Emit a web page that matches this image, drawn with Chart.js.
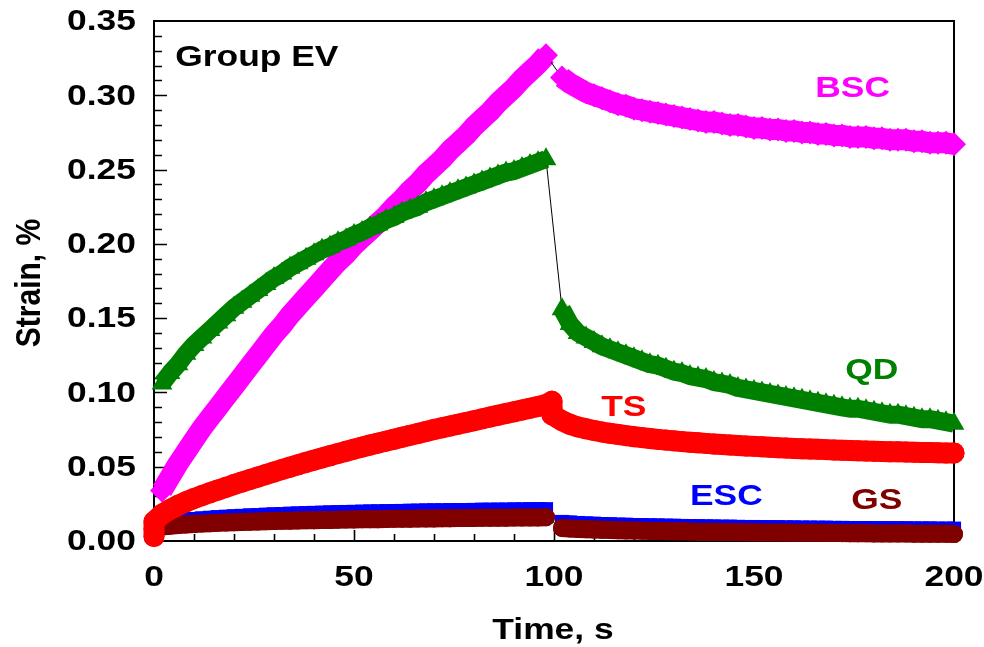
<!DOCTYPE html>
<html>
<head>
<meta charset="utf-8">
<script src="https://cdn.jsdelivr.net/npm/chart.js@4.4.1/dist/chart.umd.min.js"></script>
<style>
  html, body { margin: 0; padding: 0; background: #fff; }
  #wrap { position: relative; width: 984px; height: 647px; }
</style>
</head>
<body>
<div id="wrap"><canvas id="strain-chart"></canvas></div>
<script>
(function () {
  // time stamps (s) for the loading and unloading phases
  var timeLoad = [2, 4, 6, 8, 10, 12, 14, 16, 18, 20, 22, 24, 26, 28, 30, 32, 34, 36, 38, 40,
    42, 44, 46, 48, 50, 52, 54, 56, 58, 60, 62, 64, 66, 68, 70, 72, 74, 76, 78, 80,
    82, 84, 86, 88, 90, 92, 94, 96, 98];
  var timeUnload = [102, 104, 106, 108, 110, 112, 114, 116, 118, 120, 122, 124, 126, 128, 130,
    132, 134, 136, 138, 140, 142, 144, 146, 148, 150, 152, 154, 156, 158, 160, 162, 164, 166,
    168, 170, 172, 174, 176, 178, 180, 182, 184, 186, 188, 190, 192, 194, 196, 198, 200];

  // strain, %
  var bscLoad = [0.034, 0.043, 0.052, 0.060, 0.068, 0.076, 0.083, 0.090, 0.097, 0.104,
    0.111, 0.118, 0.125, 0.132, 0.139, 0.145, 0.152, 0.158, 0.164, 0.170,
    0.176, 0.182, 0.188, 0.193, 0.199, 0.204, 0.209, 0.214, 0.219, 0.225,
    0.230, 0.236, 0.241, 0.247, 0.252, 0.257, 0.263, 0.268, 0.273, 0.279,
    0.284, 0.289, 0.295, 0.300, 0.305, 0.311, 0.316, 0.321, 0.327];
  var bscUnload = [0.312, 0.308, 0.305, 0.302, 0.300, 0.298, 0.296, 0.294, 0.293, 0.291,
    0.290, 0.289, 0.288, 0.287, 0.286, 0.285, 0.284, 0.283, 0.282, 0.282,
    0.281, 0.280, 0.280, 0.279, 0.278, 0.278, 0.277, 0.277, 0.276, 0.276,
    0.275, 0.275, 0.274, 0.274, 0.273, 0.273, 0.272, 0.272, 0.272, 0.271,
    0.271, 0.270, 0.270, 0.270, 0.269, 0.269, 0.268, 0.268, 0.268, 0.267];

  var qdLoad = [0.106, 0.113, 0.119, 0.126, 0.132, 0.137, 0.142, 0.147, 0.152, 0.157,
    0.161, 0.165, 0.169, 0.173, 0.177, 0.180, 0.184, 0.187, 0.190, 0.193,
    0.196, 0.198, 0.201, 0.203, 0.206, 0.208, 0.211, 0.213, 0.216, 0.218,
    0.221, 0.223, 0.225, 0.228, 0.230, 0.232, 0.234, 0.236, 0.238, 0.240,
    0.242, 0.244, 0.246, 0.248, 0.249, 0.251, 0.253, 0.255, 0.257];
  var qdUnload = [0.156, 0.146, 0.140, 0.137, 0.134, 0.131, 0.129, 0.127, 0.125, 0.123,
    0.121, 0.119, 0.118, 0.116, 0.114, 0.113, 0.111, 0.110, 0.109, 0.107,
    0.106, 0.105, 0.103, 0.102, 0.101, 0.100, 0.099, 0.098, 0.097, 0.096,
    0.095, 0.094, 0.093, 0.092, 0.091, 0.090, 0.089, 0.089, 0.088, 0.087,
    0.086, 0.085, 0.085, 0.084, 0.083, 0.082, 0.082, 0.081, 0.080, 0.079];

  var tsOnsetTime = [0, 0, 0];
  var tsOnset = [0.003, 0.008, 0.013];
  var tsLoad = [0.0180, 0.0212, 0.0240, 0.0264, 0.0286, 0.0306, 0.0325, 0.0343, 0.0361, 0.0380,
    0.0397, 0.0414, 0.0431, 0.0448, 0.0465, 0.0481, 0.0497, 0.0513, 0.0529, 0.0544,
    0.0559, 0.0574, 0.0589, 0.0604, 0.0618, 0.0632, 0.0646, 0.0659, 0.0672, 0.0685,
    0.0698, 0.0711, 0.0724, 0.0737, 0.0750, 0.0762, 0.0774, 0.0786, 0.0798, 0.0810,
    0.0822, 0.0834, 0.0846, 0.0858, 0.0870, 0.0882, 0.0894, 0.0906, 0.0918];
  var tsDropTime = [99.5, 99.5, 99.5];
  var tsDrop = [0.094, 0.089, 0.085];
  var tsUnload = [0.0810, 0.0785, 0.0768, 0.0755, 0.0744, 0.0734, 0.0725, 0.0717, 0.0709, 0.0702,
    0.0696, 0.0690, 0.0684, 0.0679, 0.0674, 0.0669, 0.0665, 0.0661, 0.0657, 0.0653,
    0.0649, 0.0646, 0.0643, 0.0640, 0.0637, 0.0634, 0.0631, 0.0628, 0.0626, 0.0623,
    0.0621, 0.0619, 0.0617, 0.0615, 0.0613, 0.0611, 0.0609, 0.0607, 0.0606, 0.0604,
    0.0603, 0.0601, 0.0600, 0.0599, 0.0597, 0.0596, 0.0595, 0.0594, 0.0593, 0.0592];

  var escLoad = [0.0125, 0.0132, 0.0138, 0.0143, 0.0148, 0.0152, 0.0156, 0.0160, 0.0163, 0.0166,
    0.0169, 0.0172, 0.0174, 0.0177, 0.0179, 0.0181, 0.0183, 0.0185, 0.0187, 0.0189,
    0.0190, 0.0192, 0.0193, 0.0195, 0.0196, 0.0197, 0.0198, 0.0199, 0.0200, 0.0201,
    0.0202, 0.0203, 0.0204, 0.0205, 0.0206, 0.0206, 0.0207, 0.0208, 0.0208, 0.0209,
    0.0210, 0.0210, 0.0211, 0.0211, 0.0212, 0.0212, 0.0213, 0.0213, 0.0214];
  var escUnload = [0.0128, 0.0124, 0.0121, 0.0118, 0.0116, 0.0114, 0.0112, 0.0110, 0.0109, 0.0107,
    0.0106, 0.0105, 0.0104, 0.0103, 0.0102, 0.0101, 0.0100, 0.0099, 0.0098, 0.0097,
    0.0096, 0.0096, 0.0095, 0.0094, 0.0094, 0.0093, 0.0092, 0.0092, 0.0091, 0.0091,
    0.0090, 0.0090, 0.0089, 0.0089, 0.0088, 0.0088, 0.0087, 0.0087, 0.0087, 0.0086,
    0.0086, 0.0085, 0.0085, 0.0085, 0.0084, 0.0084, 0.0084, 0.0083, 0.0083, 0.0083];

  var gsLoad = [0.0098, 0.0103, 0.0107, 0.0111, 0.0114, 0.0117, 0.0120, 0.0122, 0.0124, 0.0126,
    0.0128, 0.0130, 0.0131, 0.0133, 0.0134, 0.0136, 0.0137, 0.0138, 0.0139, 0.0140,
    0.0141, 0.0142, 0.0143, 0.0144, 0.0145, 0.0146, 0.0147, 0.0147, 0.0148, 0.0149,
    0.0150, 0.0150, 0.0151, 0.0152, 0.0152, 0.0153, 0.0153, 0.0154, 0.0155, 0.0155,
    0.0156, 0.0156, 0.0157, 0.0157, 0.0158, 0.0158, 0.0159, 0.0159, 0.0160];
  var gsUnload = [0.0088, 0.0084, 0.0081, 0.0079, 0.0077, 0.0075, 0.0074, 0.0072, 0.0071, 0.0070,
    0.0069, 0.0068, 0.0067, 0.0066, 0.0066, 0.0065, 0.0064, 0.0063, 0.0063, 0.0062,
    0.0061, 0.0061, 0.0060, 0.0059, 0.0059, 0.0058, 0.0058, 0.0057, 0.0057, 0.0056,
    0.0056, 0.0055, 0.0055, 0.0054, 0.0054, 0.0053, 0.0053, 0.0052, 0.0052, 0.0051,
    0.0051, 0.0050, 0.0050, 0.0050, 0.0049, 0.0049, 0.0048, 0.0048, 0.0048, 0.0047];

  var strainTicks = ['0.00', '0.05', '0.10', '0.15', '0.20', '0.25', '0.30', '0.35'];
  var timeTicks = ['0', '50', '100', '150', '200'];

  var textFont = 'bold 30px "Liberation Sans", Arial, sans-serif';
  var widen = 1.18;

  function pairs(times, values) {
    return values.map(function (v, i) {
      return { x: times[i], y: v };
    });
  }

  // Dense markers merge into a solid band, so the connecting line is drawn
  // in the series colour at marker width; only the load/unload jump stays
  // a thin black stroke.
  function series(label, color, style, radius, band, cap, data, jumpAt) {
    return {
      label: label,
      data: data,
      showLine: true,
      borderColor: color,
      borderWidth: band,
      borderCapStyle: cap,
      borderJoinStyle: 'round',
      segment: {
        borderColor: function (ctx) {
          return ctx.p0DataIndex === jumpAt ? '#000' : color;
        },
        borderWidth: function (ctx) {
          return ctx.p0DataIndex === jumpAt ? 1 : band;
        },
      },
      pointStyle: style,
      pointRadius: radius,
      pointBackgroundColor: color,
      pointBorderColor: color,
      pointBorderWidth: 0,
      clip: false,
      tension: 0,
    };
  }

  function drawText(ctx, text, x, y, color, align, vertical) {
    ctx.save();
    ctx.translate(x, y);
    if (vertical) {
      ctx.rotate(-Math.PI / 2);
      ctx.scale(1, widen);
    } else {
      ctx.scale(widen, 1);
    }
    ctx.font = textFont;
    ctx.fillStyle = color;
    ctx.textAlign = align;
    ctx.textBaseline = 'middle';
    ctx.fillText(text, 0, 0);
    ctx.restore();
  }

  // boxed frame with inward tick marks, drawn under the markers
  var frame = {
    id: 'frame',
    beforeDatasetsDraw: function (chart) {
      var ctx = chart.ctx;
      var area = chart.chartArea;
      var xs = chart.scales.x;
      var ys = chart.scales.y;
      ctx.save();
      ctx.strokeStyle = '#000';
      ctx.lineWidth = 2;
      ctx.strokeRect(area.left, area.top, area.right - area.left, area.bottom - area.top);
      ctx.beginPath();
      for (var i = 1; i < 35; i++) {
        var py = Math.round(ys.getPixelForValue(i / 100)) + 0.5;
        var len = i % 5 === 0 ? 13 : 8;
        ctx.moveTo(area.left, py);
        ctx.lineTo(area.left + len, py);
      }
      for (var j = 1; j < 20; j++) {
        var px = Math.round(xs.getPixelForValue(j * 10)) + 0.5;
        var tl = j % 5 === 0 ? 11 : 7;
        ctx.moveTo(px, area.bottom);
        ctx.lineTo(px, area.bottom - tl);
      }
      ctx.lineWidth = 1.6;
      ctx.stroke();
      ctx.restore();
    },
    afterDraw: function (chart) {
      var ctx = chart.ctx;
      var area = chart.chartArea;
      var xs = chart.scales.x;
      var ys = chart.scales.y;

      strainTicks.forEach(function (t) {
        drawText(ctx, t, area.left - 18, ys.getPixelForValue(parseFloat(t)) + 1, '#000', 'right');
      });
      timeTicks.forEach(function (t) {
        drawText(ctx, t, xs.getPixelForValue(parseFloat(t)), area.bottom + 37, '#000', 'center');
      });
      drawText(ctx, 'Time, s', 553, 631, '#000', 'center');
      drawText(ctx, 'Strain, %', 30, 283, '#000', 'center', true);

      chart.options.plugins.frame.notes.forEach(function (n) {
        drawText(ctx, n.text, xs.getPixelForValue(n.x), ys.getPixelForValue(n.y), n.color, 'left');
      });
    },
  };

  var jump = timeLoad.length - 1;

  var tsData = pairs(tsOnsetTime, tsOnset)
    .concat(pairs(timeLoad, tsLoad))
    .concat(pairs(tsDropTime, tsDrop))
    .concat(pairs(timeUnload, tsUnload));

  new Chart(document.getElementById('strain-chart'), {
    type: 'scatter',
    data: {
      datasets: [
        series('TS', '#ff0000', 'circle', 10.5, 21, 'round', tsData, -1),
        series('GS', '#800000', 'circle', 9, 18, 'round',
          pairs(timeLoad, gsLoad).concat(pairs(timeUnload, gsUnload)), jump),
        series('ESC', '#0000ff', 'rect', 10, 14, 'butt',
          pairs(timeLoad, escLoad).concat(pairs(timeUnload, escUnload)), jump),
        series('QD', '#008000', 'triangle', 12, 18, 'butt',
          pairs(timeLoad, qdLoad).concat(pairs(timeUnload, qdUnload)), jump),
        series('BSC', '#ff00ff', 'rectRot', 12, 21, 'butt',
          pairs(timeLoad, bscLoad).concat(pairs(timeUnload, bscUnload)), jump),
      ],
    },
    options: {
      responsive: true,
      maintainAspectRatio: false,
      animation: false,
      events: [],
      layout: { padding: { left: 154, right: 30, top: 21, bottom: 106 } },
      plugins: {
        legend: { display: false },
        tooltip: { enabled: false },
        frame: {
          notes: [
            { text: 'Group EV', x: 5.3, y: 0.3255, color: '#000' },
            { text: 'BSC', x: 165.3, y: 0.3045, color: '#ff00ff' },
            { text: 'QD', x: 172.8, y: 0.1145, color: '#008000' },
            { text: 'TS', x: 111.8, y: 0.0895, color: '#ff0000' },
            { text: 'ESC', x: 134, y: 0.0295, color: '#0000ff' },
            { text: 'GS', x: 174.3, y: 0.027, color: '#800000' },
          ],
        },
      },
      scales: {
        x: { type: 'linear', min: 0, max: 200, display: false },
        y: { type: 'linear', min: 0, max: 0.35, display: false },
      },
    },
    plugins: [frame],
  });
})();
</script>
</body>
</html>
